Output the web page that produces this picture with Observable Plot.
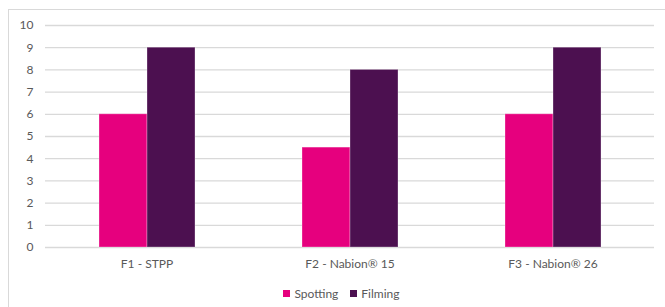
<!DOCTYPE html>
<html><head><meta charset="utf-8">
<script src="https://cdn.jsdelivr.net/npm/d3@7"></script>
<script src="https://cdn.jsdelivr.net/npm/@observablehq/plot@0.6"></script>
<style>
body{margin:0;background:#fff;font-family:Lato,"Open Sans",sans-serif;}
#frame{position:absolute;left:8px;top:9px;width:680px;height:320px;border:1px solid #d9d9d9;box-sizing:border-box;}
#chart{position:absolute;left:0;top:0;}
#legend{position:absolute;left:0;top:286px;width:665px;display:flex;justify-content:center;gap:12px;font-size:12px;color:#595959;padding-left:18px;box-sizing:border-box;}
#legend span{display:inline-flex;align-items:center;}
#legend i{display:inline-block;width:7px;height:7px;margin-right:4px;}
</style></head>
<body>
<div id="frame"></div>
<div id="chart"></div>
<div id="legend"></div>
<script>
const categories = ["F1 - STPP", "F2 - Nabion® 15", "F3 - Nabion® 26"];
const seriesNames = ["Spotting", "Filming"];
const spotting = [6, 4.5, 6];
const filming = [9, 8, 9];
const yTicks = [0,1,2,3,4,5,6,7,8,9,10];
const colors = ["#E6007E", "#4C1050"];

const data = [];
categories.forEach((c, i) => {
  data.push({category: c, series: "Spotting", value: spotting[i]});
  data.push({category: c, series: "Filming", value: filming[i]});
});

const plot = Plot.plot({
  width: 665,
  height: 280,
  marginLeft: 44,
  marginRight: 11,
  marginTop: 25,
  marginBottom: 33,
  style: {fontFamily: "Lato, 'Open Sans', sans-serif", fontSize: "12px", color: "#595959", background: "transparent"},
  fx: {domain: categories, padding: 0, label: null, axis: "bottom", tickSize: 0, tickPadding: 12},
  x: {domain: seriesNames, paddingInner: 0, paddingOuter: 1.1, axis: null},
  y: {domain: [0, 10], ticks: yTicks, label: null, tickSize: 0, tickPadding: 12},
  color: {domain: seriesNames, range: colors},
  marks: [
    Plot.ruleY(yTicks, {stroke: "#d9d9d9", strokeWidth: 1.3}),
    Plot.barY(data, {fx: "category", x: "series", y: "value", fill: "series", stroke: "white", strokeOpacity: 0.3, strokeWidth: 1, inset: 0})
  ]
});
document.getElementById("chart").appendChild(plot);

const legend = document.getElementById("legend");
seriesNames.forEach((s, i) => {
  const sp = document.createElement("span");
  const sw = document.createElement("i");
  sw.style.background = colors[i];
  sp.appendChild(sw);
  sp.appendChild(document.createTextNode(s));
  legend.appendChild(sp);
});
</script>
</body></html>
